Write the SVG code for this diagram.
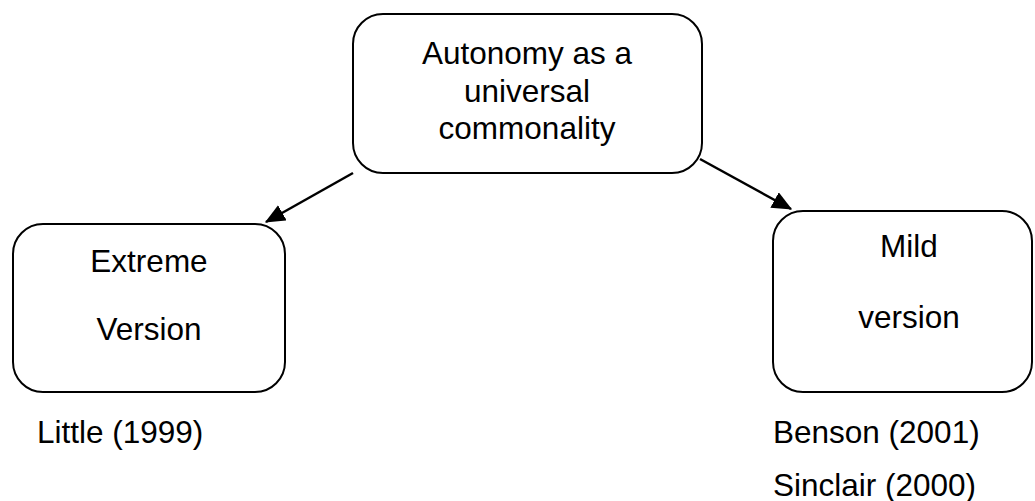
<svg xmlns="http://www.w3.org/2000/svg" width="1035" height="501" viewBox="0 0 1035 501">
<style>
.box{fill:#fff;stroke:#000;stroke-width:2}
.t{font-family:"Liberation Sans",Arial,sans-serif;font-size:31.5px;fill:#000}
.c{text-anchor:middle}
.edge{stroke:#000;stroke-width:2.5;fill:none}
</style>
<defs>
<marker id="ah" markerWidth="8" markerHeight="7" refX="7.5" refY="3.5" orient="auto" markerUnits="strokeWidth">
<path d="M0,0 L8,3.5 L0,7 Z" fill="#000"/>
</marker>
</defs>
<rect width="1035" height="501" fill="#fff"/>
<g id="connectors">
<line class="edge" x1="353" y1="173" x2="266" y2="222" marker-end="url(#ah)"/>
<line class="edge" x1="700" y1="159" x2="791" y2="209" marker-end="url(#ah)"/>
</g>
<g id="node-top">
<rect class="box" x="353" y="14" width="349" height="159" rx="30" ry="30"/>
<text class="t c" x="527" y="64">Autonomy as a</text>
<text class="t c" x="527" y="101.5">universal</text>
<text class="t c" x="527" y="139">commonality</text>
</g>
<g id="node-extreme">
<rect class="box" x="13" y="224" width="272" height="168" rx="30" ry="30"/>
<text class="t c" x="149" y="272">Extreme</text>
<text class="t c" x="149" y="340">Version</text>
</g>
<g id="node-mild">
<rect class="box" x="773" y="211" width="259" height="181" rx="30" ry="30"/>
<text class="t c" x="909" y="257">Mild</text>
<text class="t c" x="909" y="328">version</text>
</g>
<g id="refs">
<text class="t" x="37" y="443">Little (1999)</text>
<text class="t" x="773" y="443">Benson (2001)</text>
<text class="t" x="773" y="496">Sinclair (2000)</text>
</g>
</svg>
